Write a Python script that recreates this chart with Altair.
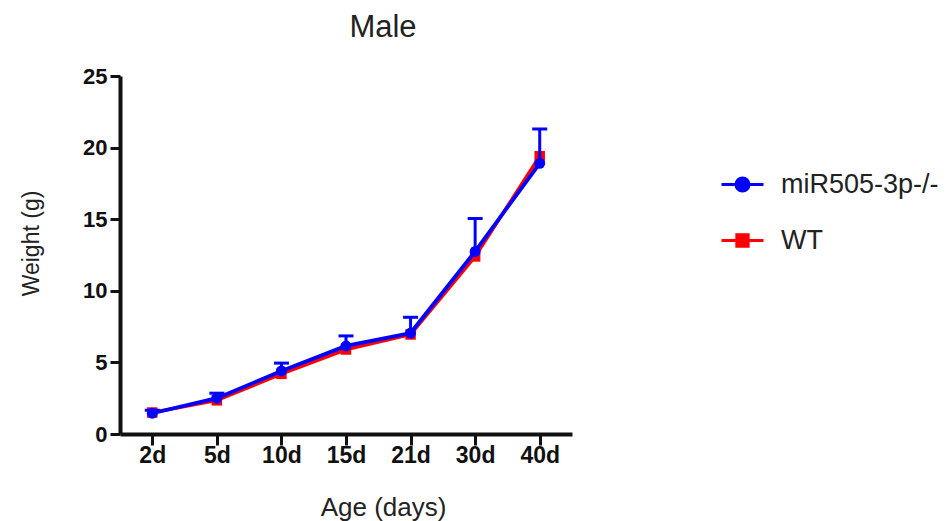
import altair as alt
import pandas as pd

ages = ["2d", "5d", "10d", "15d", "21d", "30d", "40d"]
groups = ["miR505-3p-/-", "WT"]
colors = ["#0000ff", "#ff0000"]

ko_mean = [1.45, 2.5, 4.4, 6.15, 7.05, 12.75, 18.9]
ko_upper = [1.65, 2.85, 4.95, 6.85, 8.15, 15.05, 21.3]
wt_mean = [1.5, 2.35, 4.2, 5.9, 6.95, 12.4, 19.4]
y_ticks = [0, 5, 10, 15, 20, 25]

rows = []
for a, m, u in zip(ages, ko_mean, ko_upper):
    rows.append({"age": a, "group": groups[0], "weight": m, "upper": u})
for a, m in zip(ages, wt_mean):
    rows.append({"age": a, "group": groups[1], "weight": m, "upper": m})
df = pd.DataFrame(rows)

FONT = "Liberation Sans"

x_scale = alt.Scale(type="point", domain=ages, padding=0.5)
x_enc = alt.X(
    "age:N",
    sort=ages,
    scale=x_scale,
    axis=alt.Axis(
        title="Age (days)",
        labelAngle=0,
        labelAlign="center",
        labelFont=FONT,
        labelFontSize=23,
        labelFontWeight="bold",
        labelColor="#111111",
        labelPadding=10,
        tickSize=11,
        tickWidth=3,
        tickColor="#111111",
        domainColor="#111111",
        domainWidth=4,
        grid=False,
        titleFont=FONT,
        titleFontSize=26,
        titleFontWeight="normal",
        titleColor="#222222",
        titleX=263,
        titleY=81,
        titleAlign="center",
        titleBaseline="alphabetic",
    ),
)
y_enc = alt.Y(
    "weight:Q",
    scale=alt.Scale(domain=[0, 25], nice=False),
    axis=alt.Axis(
        title="Weight (g)",
        values=y_ticks,
        labelFont=FONT,
        labelFontSize=22,
        labelFontWeight="bold",
        labelColor="#111111",
        labelPadding=3,
        tickSize=10,
        tickWidth=3,
        tickColor="#111111",
        domainColor="#111111",
        domainWidth=4,
        grid=False,
        titleFont=FONT,
        titleFontSize=23,
        titleFontWeight="normal",
        titleColor="#222222",
        titleX=-89,
        titleY=167,
        titleAlign="center",
        titleBaseline="middle",
    ),
)

# legend symbols: a line with a (stroke-filled) circle / square in the middle
circle_path = (
    "M-1,0L1,0"
    "M-0.31,0A0.31,0.31,0,1,1,0.31,0A0.31,0.31,0,1,1,-0.31,0Z"
    "M-0.19,0A0.19,0.19,0,1,1,0.19,0A0.19,0.19,0,1,1,-0.19,0Z"
    "M-0.08,0A0.08,0.08,0,1,1,0.08,0A0.08,0.08,0,1,1,-0.08,0Z"
)
square_path = (
    "M-1,0L1,0"
    "M-0.27,-0.27L0.27,-0.27L0.27,0.27L-0.27,0.27Z"
    "M-0.16,-0.16L0.16,-0.16L0.16,0.16L-0.16,0.16Z"
    "M-0.06,-0.06L0.06,-0.06L0.06,0.06L-0.06,0.06Z"
)

legend = alt.Legend(
    orient="none",
    legendX=600,
    legendY=86,
    title=None,
    labelFont=FONT,
    labelFontSize=27,
    labelColor="#222222",
    labelLimit=400,
    labelOffset=16,
    symbolSize=1764,
    symbolStrokeWidth=3,
    symbolOpacity=1,
    rowPadding=20,
    padding=0,
)

color_scale = alt.Scale(domain=groups, range=colors)

base = alt.Chart(df)

legend_layer = base.mark_point(opacity=0, filled=False, strokeWidth=3).encode(
    x=alt.X("age:N", sort=ages, scale=x_scale),
    y=alt.Y("weight:Q"),
    color=alt.Color("group:N", scale=color_scale, legend=legend),
    shape=alt.Shape(
        "group:N",
        scale=alt.Scale(domain=groups, range=[circle_path, square_path]),
        legend=legend,
    ),
)

line_color = alt.Color("group:N", scale=color_scale, legend=None)

wt_line = base.transform_filter(alt.datum.group == "WT").mark_line(strokeWidth=3.5).encode(
    x=x_enc, y=y_enc, color=line_color
)
wt_pts = base.transform_filter(alt.datum.group == "WT").mark_point(
    shape="square", filled=True, size=110, opacity=1, color="#ff0000"
).encode(x=x_enc, y=y_enc)

ko_rule = base.transform_filter(alt.datum.group == groups[0]).mark_rule(
    color="#0000ff", strokeWidth=3
).encode(x=x_enc, y=y_enc, y2="upper:Q")
ko_cap = base.transform_filter(alt.datum.group == groups[0]).mark_tick(
    color="#0000ff", thickness=3, size=15, orient="horizontal", opacity=1
).encode(x=x_enc, y=alt.Y("upper:Q"))
ko_line = base.transform_filter(alt.datum.group == groups[0]).mark_line(strokeWidth=3.8).encode(
    x=x_enc, y=y_enc, color=line_color
)
ko_pts = base.transform_filter(alt.datum.group == groups[0]).mark_point(
    shape="circle", filled=True, size=120, opacity=1, color="#0000ff"
).encode(x=x_enc, y=y_enc)

chart = (
    alt.layer(legend_layer, wt_line, wt_pts, ko_rule, ko_cap, ko_line, ko_pts)
    .properties(
        width=452,
        height=358,
        autosize=alt.AutoSizeParams(type="none"),
        padding={"left": 120, "top": 76, "right": 377, "bottom": 87},
        title=alt.TitleParams(
            "Male",
            font=FONT,
            fontSize=31,
            fontWeight="normal",
            color="#222222",
            anchor="middle",
            frame="group",
            dx=37,
            dy=3,
            offset=0,
            baseline="alphabetic",
        ),
    )
    .configure(background="white")
    .configure_view(stroke="transparent", strokeWidth=0)
)

chart.save("out.html", embed_options={"renderer": "svg", "actions": False})
